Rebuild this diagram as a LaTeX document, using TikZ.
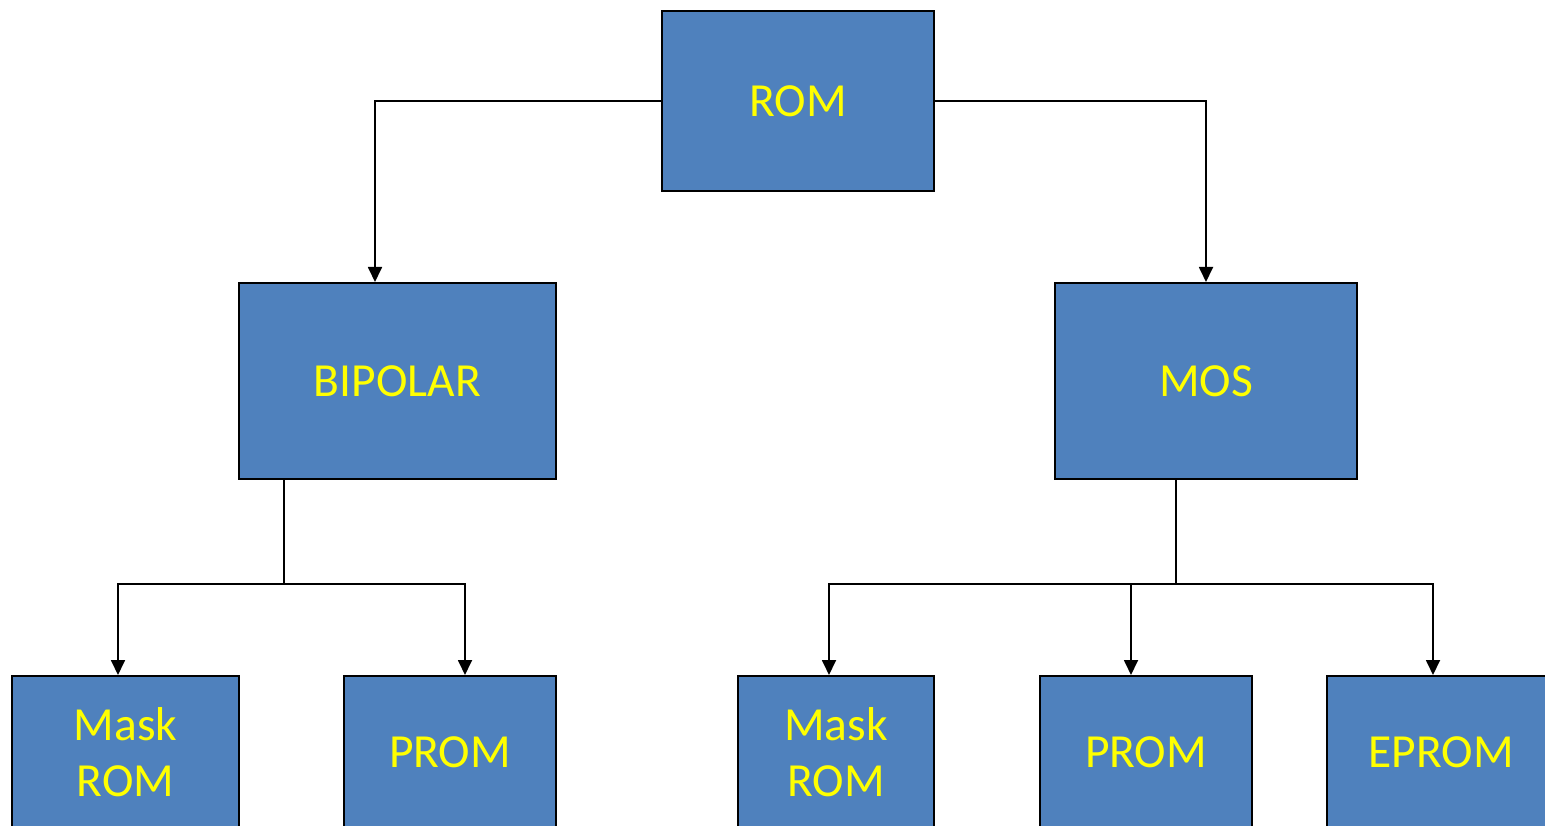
\documentclass[tikz,border=0pt]{standalone}
\usepackage{fontspec}
\setmainfont{Carlito}
\usetikzlibrary{arrows.meta}
\definecolor{boxblue}{HTML}{4F81BD}
\definecolor{txtyellow}{HTML}{FFFF00}
\tikzset{
  box/.style={draw=black, line width=2pt, fill=boxblue, text=txtyellow,
    inner sep=0pt, align=center, font=\fontsize{47.5}{56}\selectfont},
  conn/.style={draw=black, line width=1.8pt},
  arr/.style={conn, -{Triangle[width=14pt,length=15pt]}}
}
\begin{document}
\begin{tikzpicture}[x=1pt,y=-1pt]
\useasboundingbox (0,0) rectangle (1545,826);
\clip (0,0) rectangle (1545,826);
\fill[white] (0,0) rectangle (1545,826);
\node[box, minimum width=272pt, minimum height=180pt] (rom) at (798,101) {ROM};
\node[box, minimum width=317pt, minimum height=196pt] (bip) at (397.5,381) {BIPOLAR};
\node[box, minimum width=302pt, minimum height=196pt] (mos) at (1206,381) {MOS};
\node[box, minimum width=227pt, minimum height=152pt] (m1) at (125.5,752) {Mask\\ROM};
\node[box, minimum width=212pt, minimum height=152pt] (p1) at (450,752) {PROM};
\node[box, minimum width=196pt, minimum height=152pt] (m2) at (836,752) {Mask\\ROM};
\node[box, minimum width=212pt, minimum height=152pt] (p2) at (1146,752) {PROM};
\node[box, minimum width=228pt, minimum height=152pt] (ep) at (1441,752) {EPROM};
% top level
\draw[arr] (rom.west) -| ([xshift=-22.5pt]bip.north);
\draw[arr] (rom.east) -| (mos.north);
% bipolar branch
\coordinate (bj) at (284,584);
\draw[conn] ([xshift=-113.5pt]bip.south) -- (bj);
\draw[arr] (bj) -| ([xshift=-7.5pt]m1.north);
\draw[arr] (bj) -| ([xshift=15pt]p1.north);
% mos branch
\coordinate (mj) at (1176,584);
\draw[conn] ([xshift=-30pt]mos.south) -- (mj);
\draw[arr] (mj) -| ([xshift=-7pt]m2.north);
\draw[arr] (mj) -| ([xshift=-15pt]p2.north);
\draw[arr] (mj) -| ([xshift=-8pt]ep.north);
\end{tikzpicture}
\end{document}
